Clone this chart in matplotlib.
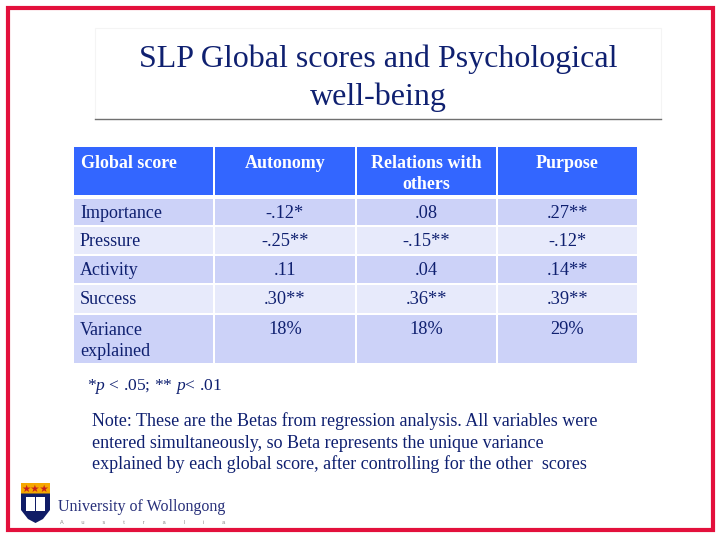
import matplotlib
matplotlib.use('Agg')
import matplotlib.pyplot as plt
from matplotlib.patches import Rectangle, Polygon

# Datos de la tabla
columnas = ['Global score', 'Autonomy', 'Relations with\nothers', 'Purpose']
filas = ['Importance', 'Pressure', 'Activity', 'Success', 'Variance\nexplained']
autonomy = ['-.12*', '-.25**', '.11', '.30**', '18%']
relations = ['.08', '-.15**', '.04', '.36**', '18%']
purpose = ['.27**', '-.12*', '.14**', '.39**', '29%']

titulo = 'SLP Global scores and Psychological\nwell-being'
nota_p = r'*$\mathit{p}$ < .05; ** $\mathit{p}$< .01'
nota = ['Note: These are the Betas from regression analysis. All variables were',
        'entered simultaneously, so Beta represents the unique variance',
        'explained by each global score, after controlling for the other  scores']

azul_texto = '#0f2070'
azul_cab = '#3366ff'
fila_a = '#ccd2f8'
fila_b = '#e7eafb'
rojo = '#e3103c'

plt.rcParams['font.family'] = ['Liberation Serif', 'DejaVu Serif']
plt.rcParams['mathtext.fontset'] = 'custom'
plt.rcParams['mathtext.it'] = 'Liberation Serif:italic'
plt.rcParams['mathtext.rm'] = 'Liberation Serif'

fig = plt.figure(figsize=(7.2, 5.4), dpi=100)
ax = fig.add_axes([0, 0, 1, 1])
# coordenadas en pixeles
ax.set_xlim(0, 720)
ax.set_ylim(540, 0)
ax.axis('off')

# marco rojo
ax.add_patch(Rectangle((7.5, 7.5), 705, 522, fill=False, ec=rojo, lw=3))

# titulo
ax.add_patch(Rectangle((95, 28), 566, 91, fc='white', ec='#f4f4f4', lw=0.8))
ax.plot([95, 661], [119, 119], color='#707070', lw=1)
ax.text(378, 78, titulo, ha='center', va='center', fontsize=23, color=azul_texto, linespacing=1.365)

# tabla
x_cols = [(74, 213), (215, 355), (357, 496), (498, 637)]
y_filas = [(199, 225), (227, 254), (256, 283), (285, 313), (315, 363)]
valores = [autonomy, relations, purpose]

for (x0, x1), col in zip(x_cols, columnas):
    ax.add_patch(Rectangle((x0, 147), x1 - x0, 48, fc=azul_cab, ec='none'))
    if col == columnas[0]:
        ax.text(x0 + 7, 163, col, ha='left', va='center', fontsize=13, fontweight='bold', color='white')
    else:
        ax.text((x0 + x1) / 2, 174 if '\n' in col else 163, col, ha='center', va='center',
                fontsize=13, fontweight='bold', color='white', linespacing=1.3)

for i, (y0, y1) in enumerate(y_filas):
    color = fila_a if i % 2 == 0 else fila_b
    for x0, x1 in x_cols:
        ax.add_patch(Rectangle((x0, y0), x1 - x0, y1 - y0, fc=color, ec='none'))
    yc = (y0 + y1) / 2 + 1
    if '\n' in filas[i]:
        ax.text(80, yc + 1, filas[i], ha='left', va='center', fontsize=13, color=azul_texto, linespacing=1.27)
    else:
        ax.text(80, yc, filas[i], ha='left', va='center', fontsize=13, color=azul_texto)
    for (x0, x1), serie in zip(x_cols[1:], valores):
        y_txt = y0 + 15 if '\n' in filas[i] else yc
        ax.text((x0 + x1) / 2, y_txt, serie[i], ha='center', va='center', fontsize=13.2, color=azul_texto)

# notas
ax.text(87, 387, nota_p, ha='left', va='center', fontsize=12.6, color=azul_texto)
for y, linea in zip([421, 443, 464], nota):
    ax.text(92, y, linea, ha='left', va='center', fontsize=12.95, color=azul_texto)

# logo
ax.add_patch(Rectangle((21, 483), 29, 10.5, fc='#f5a800', ec='none'))
ax.add_patch(Polygon([(21, 493.5), (50, 493.5), (50, 510), (43, 519), (35.5, 523), (28, 519), (21, 510)],
                     fc='#101c66', ec='none'))
ax.add_patch(Rectangle((26, 497), 9, 14, fc='white', ec='none'))
ax.add_patch(Rectangle((36, 497), 9, 14, fc='white', ec='none'))
ax.text(35.5, 488.5, '★★★', ha='center', va='center', fontsize=7.5, color='#c8201c', family='DejaVu Sans')
ax.text(58, 507, 'University of Wollongong', ha='left', va='center', fontsize=11.5, color='#28307a')
ax.text(60, 522, 'A            u            s            t            r            a            l            i            a',
        ha='left', va='center', fontsize=4, color='#8a8a8a', family='Liberation Sans')

fig.savefig('out.png', dpi=100)
